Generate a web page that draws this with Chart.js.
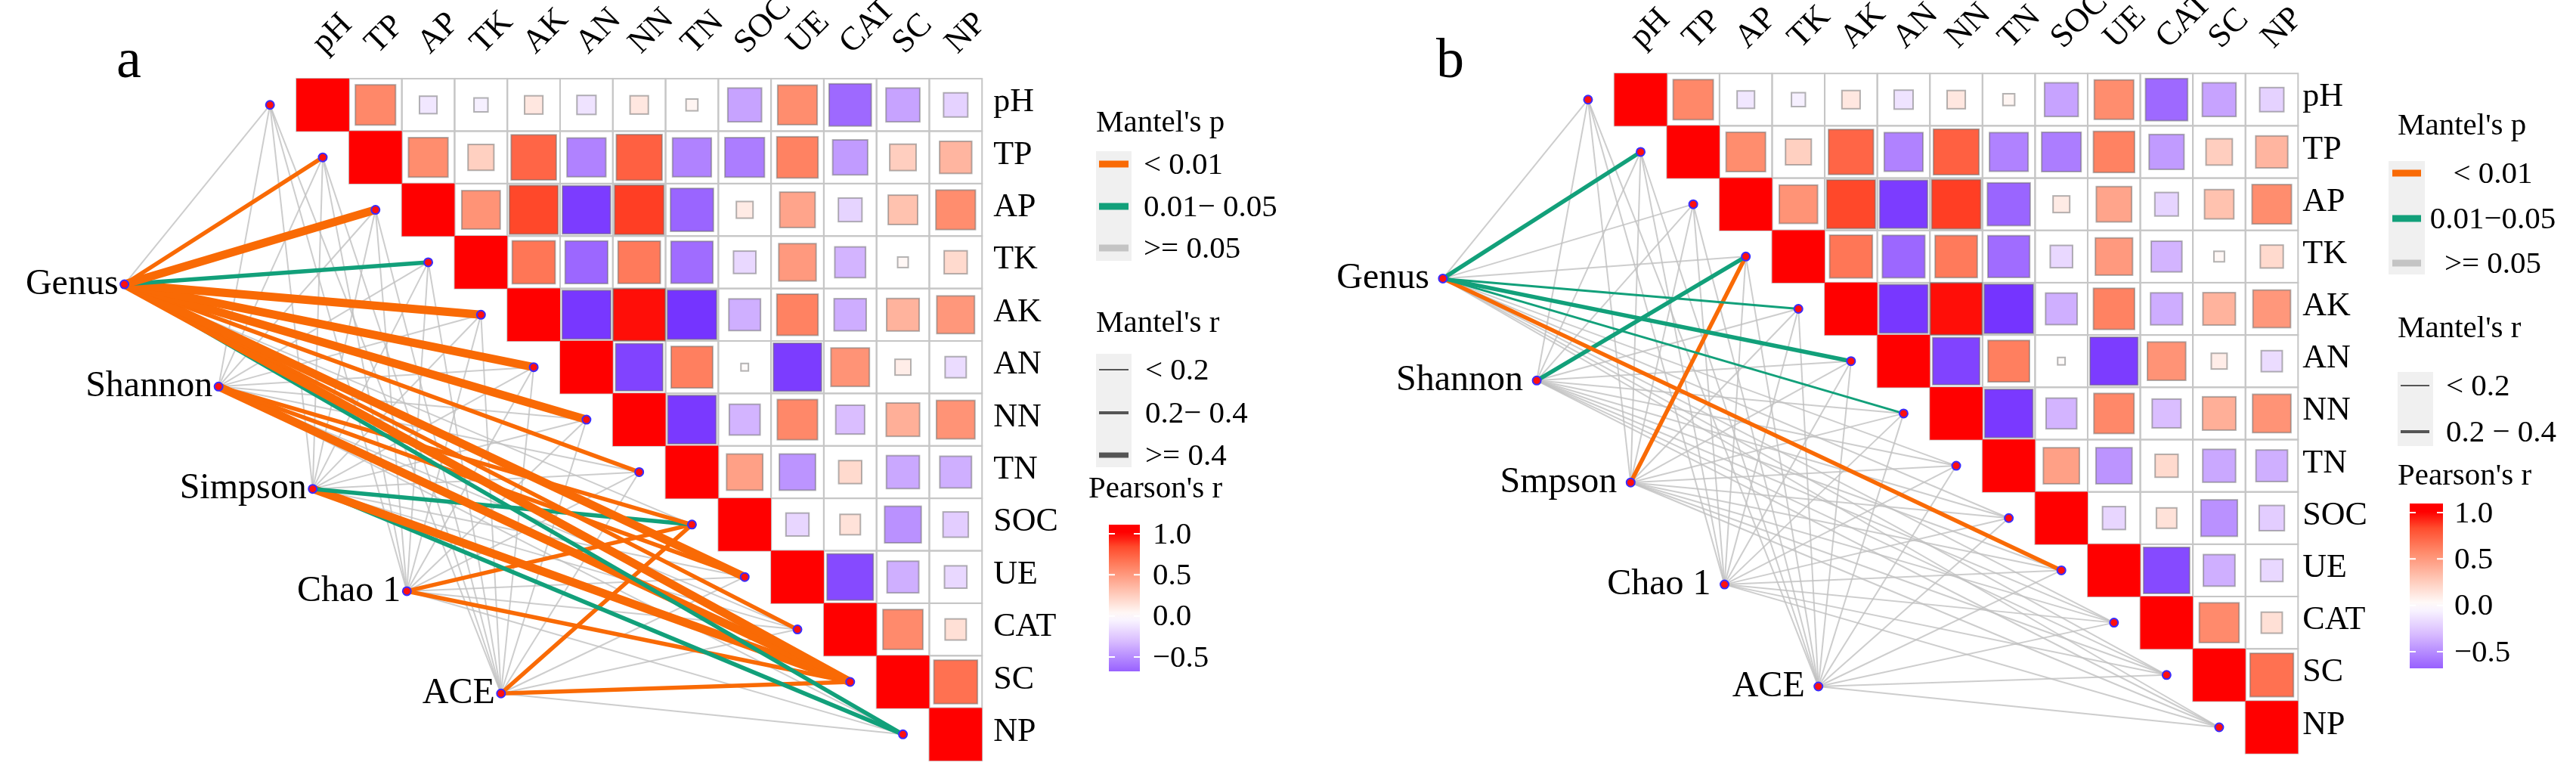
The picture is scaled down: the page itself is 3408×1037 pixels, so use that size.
<!DOCTYPE html>
<html>
<head>
<meta charset="utf-8">
<script src="https://cdn.jsdelivr.net/npm/chart.js@4.4.1/dist/chart.umd.min.js"></script>
<style>
  html, body { margin: 0; padding: 0; background: #fff; }
  #wrap { position: relative; width: 3408px; height: 1037px; }
  canvas { position: absolute; top: 0; }
</style>
</head>
<body>
<div id="wrap">
  <canvas id="panelA" width="1704" height="1037" style="left:0px"></canvas>
  <canvas id="panelB" width="1704" height="1037" style="left:1704px"></canvas>
</div>
<script>
// environmental variables (rows / columns of the correlation matrix)
const envVars = ['pH', 'TP', 'AP', 'TK', 'AK', 'AN', 'NN', 'TN', 'SOC', 'UE', 'CAT', 'SC', 'NP'];

// diversity indices (left nodes)
const specA = ['Genus', 'Shannon', 'Simpson', 'Chao 1', 'ACE'];
const specB = ['Genus', 'Shannon', 'Smpson', 'Chao 1', 'ACE'];

// Pearson's r, upper triangle, one array per row (columns to the right of the diagonal)
const corrPH  = [0.58, -0.11, -0.07, 0.12, -0.13, 0.12, 0.05, -0.41, 0.56, -0.64, -0.41, -0.21];
const corrTP  = [0.56, 0.24, 0.73, -0.54, 0.75, -0.54, -0.56, 0.61, -0.44, 0.25, 0.37];
const corrAP  = [0.53, 0.85, -0.83, 0.87, -0.66, 0.10, 0.45, -0.20, 0.31, 0.56];
const corrTK  = [0.66, -0.65, 0.64, -0.63, -0.18, 0.50, -0.34, 0.04, 0.19];
const corrAK  = [-0.85, 0.97, -0.87, -0.36, 0.61, -0.37, 0.38, 0.51];
const corrAN  = [-0.80, 0.62, 0.02, -0.83, 0.53, 0.09, -0.16];
const corrNN  = [-0.84, -0.34, 0.58, -0.30, 0.40, 0.53];
const corrTN  = [0.47, -0.47, 0.19, -0.39, -0.36];
const corrSOC = [-0.19, 0.15, -0.48, -0.23];
const corrUE  = [-0.77, -0.36, -0.18];
const corrCAT = [0.57, 0.16];
const corrSC  = [0.68];
const corrRows = [corrPH, corrTP, corrAP, corrTK, corrAK, corrAN, corrNN, corrTN, corrSOC, corrUE, corrCAT, corrSC, []];

// Mantel test classes per index x env variable
// p: 'o' = < 0.01, 'g' = 0.01-0.05, 'n' = >= 0.05 ; r: 1 = < 0.2, 2 = 0.2-0.4, 3 = >= 0.4
const pClassA = [
  ['n', 'o', 'o', 'g', 'o', 'o', 'o', 'o', 'n', 'o', 'o', 'o', 'g'],
  ['n', 'n', 'n', 'n', 'n', 'n', 'n', 'n', 'o', 'o', 'n', 'o', 'n'],
  ['n', 'n', 'n', 'n', 'n', 'n', 'n', 'n', 'g', 'n', 'n', 'o', 'g'],
  ['n', 'n', 'n', 'n', 'n', 'n', 'n', 'n', 'o', 'n', 'n', 'o', 'n'],
  ['n', 'n', 'n', 'n', 'n', 'n', 'n', 'n', 'o', 'n', 'n', 'o', 'n']
];
const rClassA = [
  [1, 2, 3, 2, 3, 3, 3, 2, 1, 3, 2, 3, 2],
  [1, 1, 1, 1, 1, 1, 1, 1, 2, 2, 1, 3, 1],
  [1, 1, 1, 1, 1, 1, 1, 1, 2, 1, 1, 3, 2],
  [1, 1, 1, 1, 1, 1, 1, 1, 2, 1, 1, 2, 1],
  [1, 1, 1, 1, 1, 1, 1, 1, 2, 1, 1, 2, 1]
];
const pClassB = [
  ['n', 'g', 'n', 'n', 'g', 'g', 'g', 'n', 'n', 'o', 'n', 'n', 'n'],
  ['n', 'n', 'n', 'g', 'n', 'n', 'n', 'n', 'n', 'n', 'n', 'n', 'n'],
  ['n', 'n', 'n', 'o', 'n', 'n', 'n', 'n', 'n', 'n', 'n', 'n', 'n'],
  ['n', 'n', 'n', 'n', 'n', 'n', 'n', 'n', 'n', 'n', 'n', 'n', 'n'],
  ['n', 'n', 'n', 'n', 'n', 'n', 'n', 'n', 'n', 'n', 'n', 'n', 'n']
];
const rClassB = [
  [1, 2, 1, 1, 1, 2, 1, 1, 1, 2, 1, 1, 1],
  [1, 1, 1, 2, 1, 1, 1, 1, 1, 1, 1, 1, 1],
  [1, 1, 1, 2, 1, 1, 1, 1, 1, 1, 1, 1, 1],
  [1, 1, 1, 1, 1, 1, 1, 1, 1, 1, 1, 1, 1],
  [1, 1, 1, 1, 1, 1, 1, 1, 1, 1, 1, 1, 1]
];

// legend texts / ticks
const pLabelsA = ['< 0.01', '0.01\u2212 0.05', '>= 0.05'];
const pLabelsB = ['< 0.01', '0.01\u22120.05', '>= 0.05'];
const rLabelsA = ['< 0.2', '0.2\u2212 0.4', '>= 0.4'];
const rLabelsB = ['< 0.2', '0.2 \u2212 0.4'];
const barTicks = [1.0, 0.5, 0.0, -0.5];

const FONT = '"Liberation Serif", "DejaVu Serif", serif';
const pColors = { o: '#F96A05', g: '#12A07A', n: 'rgba(192,192,192,0.8)' };
const rWidths = { 1: 2, 2: 5.5, 3: 11 };

// spec node layout in cell units
const specX0 = -3.26, specY0 = 3.92, specDX = 1.785, specDY = 1.95;

const colorStops = [
  [-1, [100, 30, 255]], [-0.85, [120, 55, 255]], [-0.6, [165, 115, 255]], [-0.3, [218, 190, 255]],
  [0, [255, 255, 255]], [0.3, [255, 196, 178]], [0.6, [255, 132, 100]], [0.85, [255, 72, 42]], [1, [255, 0, 0]]
];
function colorFor(v) {
  v = Math.max(-1, Math.min(1, v));
  for (let i = 0; i < colorStops.length - 1; i++) {
    const [a, ca] = colorStops[i], [b, cb] = colorStops[i + 1];
    if (v >= a && v <= b) {
      const t = (v - a) / (b - a);
      const c = ca.map((q, k) => Math.round(q + t * (cb[k] - q)));
      return `rgb(${c[0]},${c[1]},${c[2]})`;
    }
  }
  return '#fff';
}

const panels = [
  {
    id: 'panelA', letter: 'a', letterX: 154, spec: specA, pCls: pClassA, rCls: rClassA,
    gridLeft: 388, gridTop: 98, cell: 70.4, rowGap: 15, specGap: 8,
    leg: {
      pTitle: [1450, 163], pBox: [1450, 200, 47, 145], pKeys: [217, 273, 328], keyX: [1454, 1493],
      pLabels: pLabelsA, pLabelX: 1513, pAlign: 'left',
      rTitle: [1450, 428], rBox: [1450, 468, 47, 150], rKeys: [489, 546, 602], rKeyX: [1454, 1493],
      rW: [2, 4, 7], rLabels: rLabelsA, rLabelX: 1515,
      cTitle: [1440, 647], bar: [1467, 41, 694, 888], tick1: 706, tickM5: 869, cLabelX: 1525
    }
  },
  {
    id: 'panelB', letter: 'b', letterX: 196, spec: specB, pCls: pClassB, rCls: rClassB,
    gridLeft: 428, gridTop: 91, cell: 70.2, rowGap: 6, specGap: 18,
    leg: {
      pTitle: [1468, 167], pBox: [1456, 213, 48, 150], pKeys: [229, 289, 348], keyX: [1461, 1499],
      pLabels: pLabelsB, pLabelX: 1594, pAlign: 'center',
      rTitle: [1468, 435], rBox: [1468, 492, 47, 98], rKeys: [510, 571], rKeyX: [1472, 1510],
      rW: [2, 4], rLabels: rLabelsB, rLabelX: 1532,
      cTitle: [1468, 630], bar: [1484, 44, 666, 884], tick1: 678, tickM5: 862, cLabelX: 1543
    }
  }
];

const corrPlugin = {
  id: 'corrPlugin',
  beforeDatasetsDraw(chart) {
    const { ctx, scales: { x, y } } = chart;
    const n = envVars.length;
    ctx.save();
    ctx.strokeStyle = '#c6c6c6';
    ctx.lineWidth = 2;
    for (let i = 0; i < n; i++) {
      for (let j = i; j < n; j++) {
        const x0 = x.getPixelForValue(j), x1 = x.getPixelForValue(j + 1);
        const y0 = y.getPixelForValue(i), y1 = y.getPixelForValue(i + 1);
        ctx.strokeRect(x0, y0, x1 - x0, y1 - y0);
      }
    }
    for (let i = 0; i < n; i++) {
      for (let j = i; j < n; j++) {
        const r = i === j ? 1 : corrRows[i][j - i - 1];
        const cx = x.getPixelForValue(j + 0.5), cy = y.getPixelForValue(i + 0.5);
        const full = x.getPixelForValue(j + 1) - x.getPixelForValue(j);
        const side = full * Math.sqrt(Math.abs(r));
        ctx.fillStyle = colorFor(r);
        ctx.fillRect(cx - side / 2, cy - side / 2, side, side);
        if (i !== j) {
          ctx.strokeStyle = 'rgba(105,105,105,0.5)';
          ctx.lineWidth = 2;
          ctx.strokeRect(cx - side / 2, cy - side / 2, side, side);
        }
      }
    }
    ctx.restore();
  },
  afterDraw(chart) {
    const P = chart.options.plugins.corrPlugin.panel;
    const { ctx, scales: { x, y } } = chart;
    const n = envVars.length;
    ctx.save();
    ctx.fillStyle = '#000';
    // column labels
    ctx.font = `44px ${FONT}`;
    ctx.textAlign = 'left';
    ctx.textBaseline = 'middle';
    envVars.forEach((lab, j) => {
      ctx.save();
      ctx.translate(x.getPixelForValue(j + 0.5) - 6, y.getPixelForValue(0) - 40);
      ctx.rotate(-Math.PI / 4);
      ctx.fillText(lab, 0, 0);
      ctx.restore();
    });
    // row labels
    envVars.forEach((lab, i) => {
      ctx.fillText(lab, x.getPixelForValue(n) + P.rowGap, y.getPixelForValue(i + 0.5) - 3);
    });
    // spec labels
    ctx.font = `48px ${FONT}`;
    ctx.textAlign = 'right';
    P.spec.forEach((lab, k) => {
      const px = x.getPixelForValue(specX0 + k * specDX), py = y.getPixelForValue(specY0 + k * specDY);
      ctx.fillText(lab, px - P.specGap, py);
    });
    // panel letter
    ctx.font = `74px ${FONT}`;
    ctx.textAlign = 'left';
    ctx.textBaseline = 'alphabetic';
    ctx.fillText(P.letter, P.letterX, 102);
    drawLegend(ctx, P.leg);
    ctx.restore();
  }
};

function drawLegend(ctx, L) {
  ctx.fillStyle = '#000';
  ctx.font = `41px ${FONT}`;
  ctx.textBaseline = 'middle';
  ctx.textAlign = 'left';
  ctx.fillText("Mantel's p", L.pTitle[0], L.pTitle[1]);
  ctx.fillStyle = '#f0f0f0';
  ctx.fillRect(L.pBox[0], L.pBox[1], L.pBox[2], L.pBox[3]);
  const keyCols = [pColors.o, pColors.g, '#c4c4c4'];
  L.pKeys.forEach((ky, i) => {
    ctx.strokeStyle = keyCols[i];
    ctx.lineWidth = 9;
    ctx.beginPath(); ctx.moveTo(L.keyX[0], ky); ctx.lineTo(L.keyX[1], ky); ctx.stroke();
    ctx.fillStyle = '#000';
    ctx.textAlign = L.pAlign;
    ctx.fillText(L.pLabels[i], L.pLabelX, ky + 2);
  });
  ctx.textAlign = 'left';
  ctx.fillText("Mantel's r", L.rTitle[0], L.rTitle[1]);
  ctx.fillStyle = '#f0f0f0';
  ctx.fillRect(L.rBox[0], L.rBox[1], L.rBox[2], L.rBox[3]);
  L.rKeys.forEach((ky, i) => {
    ctx.strokeStyle = '#555';
    ctx.lineWidth = L.rW[i];
    ctx.beginPath(); ctx.moveTo(L.rKeyX[0], ky); ctx.lineTo(L.rKeyX[1], ky); ctx.stroke();
    ctx.fillStyle = '#000';
    ctx.fillText(L.rLabels[i], L.rLabelX, ky + 2);
  });
  ctx.fillText("Pearson's r", L.cTitle[0], L.cTitle[1]);
  // colour bar
  const [bx, bw, btop, bbot] = L.bar;
  const perUnit = (L.tickM5 - L.tick1) / 1.5;
  const valAt = py => 1 - (py - L.tick1) / perUnit;
  const grad = ctx.createLinearGradient(0, btop, 0, bbot);
  for (let s = 0; s <= 20; s++) {
    const py = btop + (bbot - btop) * s / 20;
    grad.addColorStop(s / 20, colorFor(valAt(py)));
  }
  ctx.fillStyle = grad;
  ctx.fillRect(bx, btop, bw, bbot - btop);
  ctx.strokeStyle = '#fff';
  ctx.lineWidth = 2;
  barTicks.forEach(v => {
    const py = L.tick1 + (1 - v) * perUnit;
    ctx.beginPath();
    ctx.moveTo(bx, py); ctx.lineTo(bx + 8, py);
    ctx.moveTo(bx + bw - 8, py); ctx.lineTo(bx + bw, py);
    ctx.stroke();
    ctx.fillStyle = '#000';
    ctx.fillText(v.toFixed(1).replace('-', '\u2212'), L.cLabelX, py + 2);
  });
}

Chart.register(corrPlugin);

panels.forEach(P => {
  const canvas = document.getElementById(P.id);
  const W = canvas.width, H = canvas.height;
  const datasets = [];
  const nodes = [];
  P.spec.forEach((name, k) => {
    const sx = specX0 + k * specDX, sy = specY0 + k * specDY;
    nodes.push({ x: sx, y: sy });
    envVars.forEach((env, i) => {
      const p = P.pCls[k][i], r = P.rCls[k][i];
      datasets.push({
        label: name + '-' + env,
        data: [{ x: sx, y: sy }, { x: i - 0.5, y: i + 0.5 }],
        showLine: true,
        borderColor: pColors[p],
        borderWidth: p === 'n' ? 2 : (r === 1 ? 3 : rWidths[r]),
        borderCapStyle: 'butt',
        pointRadius: 0,
        order: p === 'n' ? 3 : 2
      });
    });
  });
  envVars.forEach((env, i) => nodes.push({ x: i - 0.5, y: i + 0.5 }));
  datasets.push({
    label: 'nodes',
    data: nodes,
    pointRadius: 5.5,
    pointBackgroundColor: '#ff1010',
    pointBorderColor: '#3a2cff',
    pointBorderWidth: 2,
    order: 0
  });

  new Chart(canvas, {
    type: 'scatter',
    data: { datasets },
    options: {
      responsive: false,
      animation: false,
      devicePixelRatio: 1,
      events: [],
      layout: { padding: 0 },
      scales: {
        x: { type: 'linear', display: false, min: -P.gridLeft / P.cell, max: (W - P.gridLeft) / P.cell },
        y: { type: 'linear', display: false, reverse: true, min: -P.gridTop / P.cell, max: (H - P.gridTop) / P.cell }
      },
      plugins: {
        legend: { display: false },
        tooltip: { enabled: false },
        corrPlugin: { panel: P }
      }
    }
  });
});
</script>
</body>
</html>
